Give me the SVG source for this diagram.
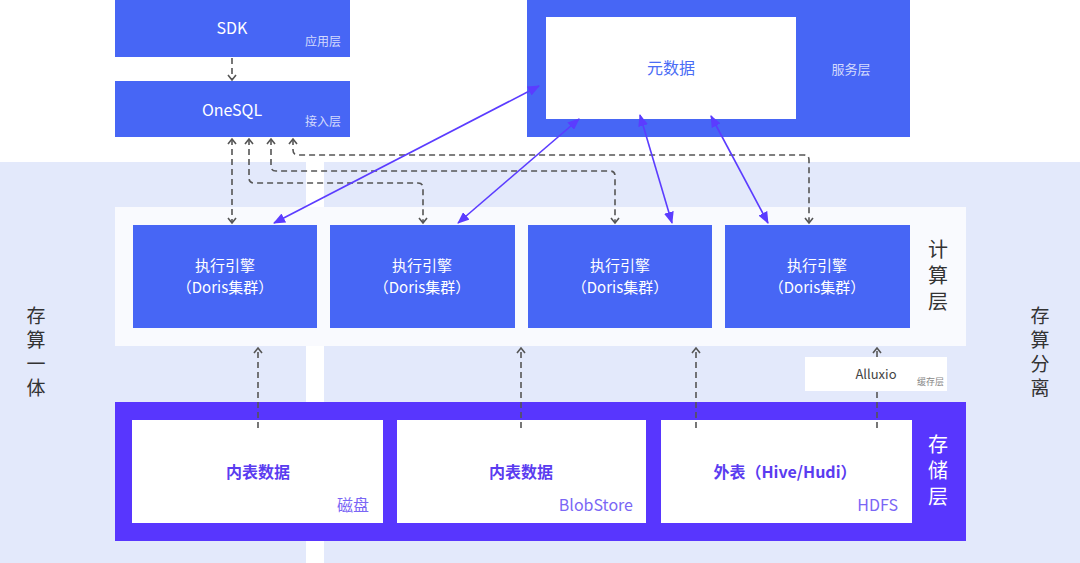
<svg xmlns="http://www.w3.org/2000/svg" width="1080" height="563" viewBox="0 0 1080 563">
<defs>
<marker id="chev" viewBox="0 0 10 10" refX="7" refY="5" markerWidth="10" markerHeight="10" markerUnits="userSpaceOnUse" orient="auto-start-reverse">
<path d="M2,1 L7,5 L2,9" fill="none" stroke="#555" stroke-width="1.6"/>
</marker>
<marker id="tri" viewBox="0 0 12 10" refX="11" refY="5" markerWidth="12" markerHeight="10" markerUnits="userSpaceOnUse" orient="auto-start-reverse">
<path d="M0,0 L12,5 L0,10 Z" fill="#5b3cff"/>
</marker>
<style>
.blue{fill:#4766f5}
.purple{fill:#5836fe}
.w{fill:#fff}
.t{font-family:"Noto Sans CJK SC","Noto Sans",sans-serif;}
.wt{fill:#fff;font-size:16px;text-anchor:middle}
.et{fill:#fff;font-size:15px;text-anchor:middle}
.sm{fill:#d3dafd;font-size:12px;text-anchor:end}
.dash{fill:none;stroke:#555;stroke-width:1.6;stroke-dasharray:6,4}
.solid{fill:none;stroke:#5b3cff;stroke-width:1.6;marker-start:url(#tri);marker-end:url(#tri)}
.side{fill:#333;font-size:19px;text-anchor:middle}
.st{fill:#5a3cf0;font-size:16px;font-weight:bold;text-anchor:middle}
.sl{fill:#7a66f5;font-size:16px;text-anchor:end}
</style>
</defs>
<rect x="0" y="0" width="1080" height="563" fill="#fff"/>
<rect x="0" y="162" width="306" height="401" fill="#e3e9fb"/>
<rect x="324" y="162" width="756" height="401" fill="#e3e9fb"/>
<rect x="115" y="207" width="851" height="139" fill="#f9fafe"/>

<g id="side-left" class="t"><text class="side" x="36" y="323">存</text><text class="side" x="36" y="347">算</text><text class="side" x="36" y="371">一</text><text class="side" x="36" y="395">体</text></g>
<g id="side-right" class="t"><text class="side" x="1040" y="323">存</text><text class="side" x="1040" y="347">算</text><text class="side" x="1040" y="371">分</text><text class="side" x="1040" y="395">离</text></g>

<g id="sdk" class="t"><rect class="blue" x="115" y="0" width="235" height="57"/><text class="wt" x="232" y="34">SDK</text><text class="sm" x="341" y="46">应用层</text></g>
<g id="onesql" class="t"><rect class="blue" x="115" y="81" width="235" height="56"/><text class="wt" x="232" y="116">OneSQL</text><text class="sm" x="341" y="126">接入层</text></g>
<g id="service" class="t"><rect class="blue" x="527" y="0" width="383" height="137"/><rect class="w" x="546" y="17" width="250" height="102"/><text x="671" y="74" fill="#4a6cf5" font-size="16" text-anchor="middle">元数据</text><text x="851" y="74" fill="#d3dafd" font-size="13" text-anchor="middle">服务层</text></g>

<g id="compute-label" class="t"><text x="938" y="257" fill="#333" font-size="20" text-anchor="middle">计</text><text x="938" y="283" fill="#333" font-size="20" text-anchor="middle">算</text><text x="938" y="309" fill="#333" font-size="20" text-anchor="middle">层</text></g>
<g id="engine1" class="t"><rect class="blue" x="133" y="225" width="184" height="103"/><text class="et" x="225" y="271">执行引擎</text><text class="et" x="225" y="293">（Doris集群）</text></g>
<g id="engine2" class="t"><rect class="blue" x="330" y="225" width="185" height="103"/><text class="et" x="422" y="271">执行引擎</text><text class="et" x="422" y="293">（Doris集群）</text></g>
<g id="engine3" class="t"><rect class="blue" x="528" y="225" width="184" height="103"/><text class="et" x="620" y="271">执行引擎</text><text class="et" x="620" y="293">（Doris集群）</text></g>
<g id="engine4" class="t"><rect class="blue" x="725" y="225" width="185" height="103"/><text class="et" x="817" y="271">执行引擎</text><text class="et" x="817" y="293">（Doris集群）</text></g>

<g id="alluxio" class="t"><rect class="w" x="805" y="357" width="142" height="34"/><text x="876" y="379" fill="#444" font-size="13" text-anchor="middle">Alluxio</text><text x="944" y="385" fill="#888" font-size="9" text-anchor="end">缓存层</text></g>

<g id="storage" class="t"><rect class="purple" x="115" y="402" width="851" height="139"/>
<text x="938" y="452" fill="#fff" font-size="20" text-anchor="middle">存</text><text x="938" y="478" fill="#fff" font-size="20" text-anchor="middle">储</text><text x="938" y="504" fill="#fff" font-size="20" text-anchor="middle">层</text></g>
<g id="store1" class="t"><rect class="w" x="132" y="420" width="251" height="103"/><text class="st" x="258" y="478">内表数据</text><text class="sl" x="369" y="511">磁盘</text></g>
<g id="store2" class="t"><rect class="w" x="397" y="420" width="249" height="103"/><text class="st" x="521" y="478">内表数据</text><text class="sl" x="633" y="511">BlobStore</text></g>
<g id="store3" class="t"><rect class="w" x="661" y="420" width="251" height="103"/><text class="st" x="785" y="478">外表（Hive/Hudi）</text><text class="sl" x="898" y="511">HDFS</text></g>

<g id="connectors">
<path class="dash" d="M232,58 L232,80" marker-end="url(#chev)"/>
<path class="dash" d="M232,139 L232,223" marker-start="url(#chev)" marker-end="url(#chev)"/>
<path class="dash" d="M249,139 L249,178 Q249,183 254,183 L418,183 Q423,183 423,188 L423,223" marker-start="url(#chev)" marker-end="url(#chev)"/>
<path class="dash" d="M271,139 L271,166 Q271,171 276,171 L610,171 Q615,171 615,176 L615,223" marker-start="url(#chev)" marker-end="url(#chev)"/>
<path class="dash" d="M293,139 L293,150 Q293,155 298,155 L804,155 Q809,155 809,160 L809,223" marker-start="url(#chev)" marker-end="url(#chev)"/>
<path class="dash" d="M258,428 L258,348" marker-end="url(#chev)"/>
<path class="dash" d="M521,428 L521,348" marker-end="url(#chev)"/>
<path class="dash" d="M696,428 L696,348" marker-end="url(#chev)"/>
<path class="dash" d="M877,428 L877,391"/>
<path class="dash" d="M877,357 L877,348" marker-end="url(#chev)"/>
<path class="solid" d="M539,86 L274,223"/>
<path class="solid" d="M579,119 L458,223"/>
<path class="solid" d="M640,115 L672,223"/>
<path class="solid" d="M711,116 L768,223"/>
</g>
</svg>
